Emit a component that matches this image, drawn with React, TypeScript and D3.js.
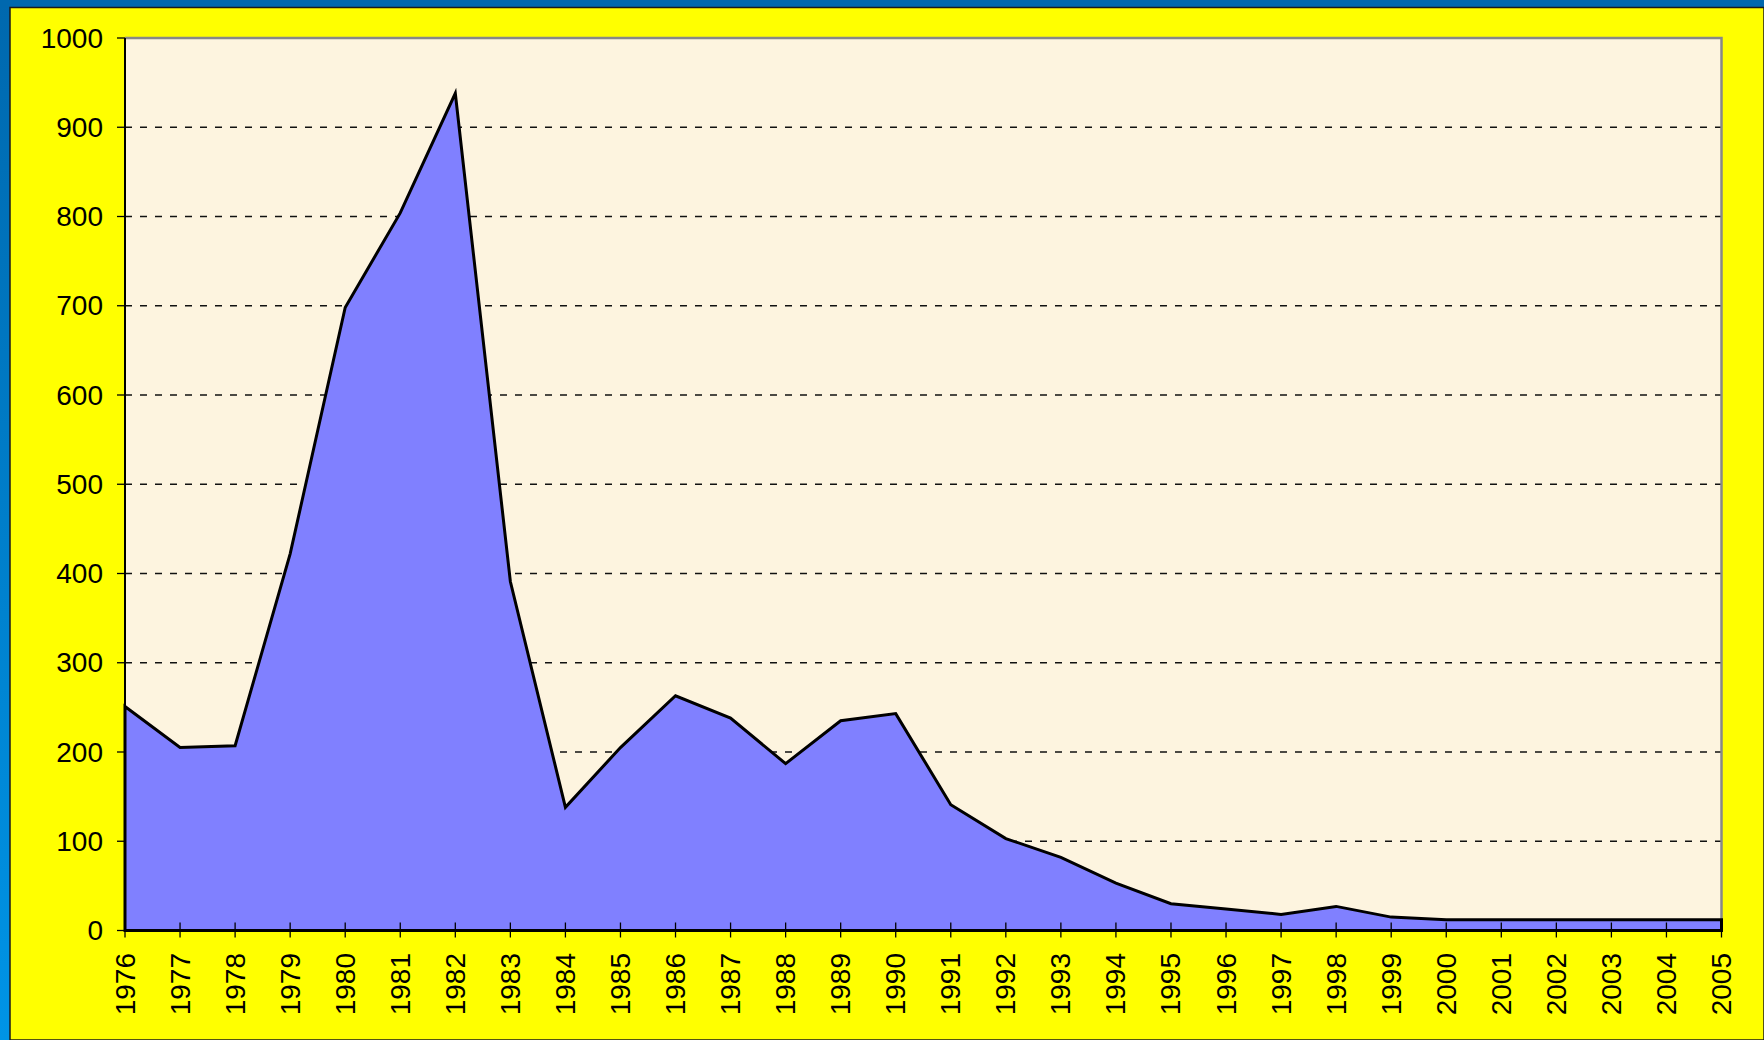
import React from "react";
import * as d3 from "d3";

const years: number[] = [
  1976, 1977, 1978, 1979, 1980, 1981, 1982, 1983, 1984, 1985,
  1986, 1987, 1988, 1989, 1990, 1991, 1992, 1993, 1994, 1995,
  1996, 1997, 1998, 1999, 2000, 2001, 2002, 2003, 2004, 2005,
];
const values: number[] = [
  251, 205, 207, 422, 698, 804, 938, 391, 138, 205,
  263, 238, 187, 235, 243, 141, 103, 82, 53, 30,
  24, 18, 27, 15, 12, 12, 12, 12, 12, 12,
];
const yTicks: number[] = [0, 100, 200, 300, 400, 500, 600, 700, 800, 900, 1000];

const W = 1764;
const H = 1040;
const left = 125;
const right = 1721.5;
const top = 38;
const bottom = 930.5;
const FONT = "'Liberation Sans', Arial, sans-serif";

export default function App() {
  const x = d3.scaleLinear().domain([years[0], years[years.length - 1]]).range([left, right]);
  const y = d3.scaleLinear().domain([0, 1000]).range([bottom, top]);
  const data = years.map((yr, i) => ({ yr, v: values[i] }));
  const area = d3
    .area<{ yr: number; v: number }>()
    .x((d) => x(d.yr))
    .y0(y(0))
    .y1((d) => y(d.v));
  const areaPath = area(data) || "";

  return (
    <svg
      width={W}
      height={H}
      style={{ position: "absolute", left: 0, top: 0, display: "block" }}
    >
      <defs>
        <linearGradient id="leftBlue" x1="0" y1="0" x2="0" y2="1">
          <stop offset="0" stopColor="#0068ae" />
          <stop offset="1" stopColor="#0094e6" />
        </linearGradient>
      </defs>
      <rect x={0} y={0} width={W} height={H} fill="url(#leftBlue)" />
      <rect x={0} y={0} width={W} height={8} fill="#0068ae" />
      <rect x={10} y={7.5} width={W - 10} height={H - 7.5} fill="#ffff00" stroke="#1a1a1a" strokeWidth={1.5} />
      <rect x={left} y={top} width={right - left} height={bottom - top} fill="#fdf4df" />
      {yTicks
        .filter((t) => t > 0 && t < 1000)
        .map((t) => (
          <line
            key={"g" + t}
            x1={left}
            x2={right}
            y1={y(t)}
            y2={y(t)}
            stroke="#111"
            strokeWidth={1.5}
            strokeDasharray="7,8"
          />
        ))}
      <path
        d={`M${left},${top}H${right}V${bottom}`}
        fill="none"
        stroke="#888"
        strokeWidth={2.5}
      />
      <path d={areaPath} fill="#8080ff" stroke="#000" strokeWidth={3} strokeLinejoin="miter" />
      <line x1={left} x2={left} y1={top} y2={bottom} stroke="#000" strokeWidth={2} />
      <line x1={left} x2={right} y1={bottom} y2={bottom} stroke="#000" strokeWidth={3} />
      {yTicks.map((t) => (
        <g key={"y" + t}>
          <line x1={left - 8} x2={left} y1={y(t)} y2={y(t)} stroke="#000" strokeWidth={1.3} />
          <text
            x={103}
            y={y(t)}
            textAnchor="end"
            dominantBaseline="central"
            fontFamily={FONT}
            fontSize={28}
            fill="#000"
          >
            {t}
          </text>
        </g>
      ))}
      {years.map((yr) => (
        <g key={"x" + yr}>
          <line x1={x(yr)} x2={x(yr)} y1={bottom - 8} y2={bottom + 7} stroke="#000" strokeWidth={1.3} />
          <text
            transform={`translate(${x(yr)},${953}) rotate(-90)`}
            textAnchor="end"
            dominantBaseline="central"
            fontFamily={FONT}
            fontSize={28}
            fill="#000"
          >
            {yr}
          </text>
        </g>
      ))}
    </svg>
  );
}
